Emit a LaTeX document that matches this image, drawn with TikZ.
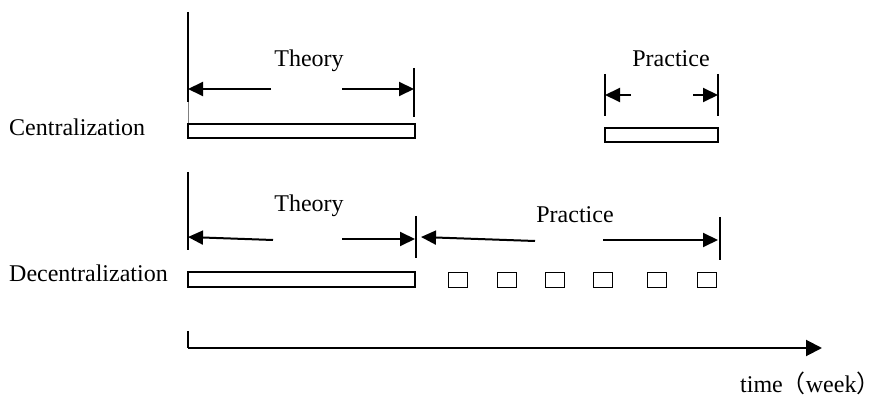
\documentclass[tikz,border=0pt]{standalone}
\usepackage{fontspec}
\setmainfont{Liberation Serif}
\newfontfamily\cjk{Noto Sans CJK SC}
\usetikzlibrary{arrows.meta}

\begin{document}
\begin{tikzpicture}[x=1pt,y=-1pt,
  lbl/.style={font=\fontsize{24}{28}\selectfont, inner sep=0pt},
  tick/.style={line width=1.4pt},
  dimarrow/.style={line width=2pt,-{Triangle[length=15pt,width=14pt]}},
  bar/.style={draw, line width=1.4pt},
  slot/.style={draw, line width=1.4pt, minimum width=19pt, minimum height=15pt, inner sep=0pt},
  axis/.style={line width=2pt,-{Triangle[length=16pt,width=16pt]}}]
\useasboundingbox (0,0) rectangle (876,403);

% ---- row labels ----
\node[lbl, anchor=base west] (cen) at (9,136) {Centralization};
\node[lbl, anchor=base west] (dec) at (9,282) {Decentralization};

% ---- centralized schedule ----
\coordinate (c0t) at (188,12);  \coordinate (c0b) at (188,102);
\coordinate (c1t) at (414,68);  \coordinate (c1b) at (414,117);
\draw[tick] (c0t) -- (c0b);
\draw[line width=0.4pt, gray] (c0b) -- (188,124);
\draw[tick] (c1t) -- (c1b);
\node[lbl, anchor=base] (cth) at (309,67) {Theory};
\coordinate (ctl) at (271,89); \coordinate (ctr) at (342,89);
\draw[dimarrow] (ctl) -- (188,89);
\draw[dimarrow] (ctr) -- (414,89);
\draw[bar] (188,124) rectangle (415,138);

\coordinate (p0t) at (605,74);  \coordinate (p0b) at (605,116);
\coordinate (p1t) at (718,74);  \coordinate (p1b) at (718,116);
\draw[tick] (p0t) -- (p0b);
\draw[tick] (p1t) -- (p1b);
\node[lbl, anchor=base] (cpr) at (671,67) {Practice};
\coordinate (cpl) at (631,95); \coordinate (cpr2) at (693,95);
\draw[dimarrow] (cpl) -- (605,95);
\draw[dimarrow] (cpr2) -- (718,95);
\draw[bar] (605,128) rectangle (718,142);

% ---- decentralized schedule ----
\coordinate (d0t) at (188,172); \coordinate (d0b) at (188,250);
\coordinate (d1t) at (416,216); \coordinate (d1b) at (416,258);
\coordinate (d2t) at (720,217); \coordinate (d2b) at (720,260);
\draw[tick] (d0t) -- (d0b);
\draw[tick] (d1t) -- (d1b);
\draw[tick] (d2t) -- (d2b);
\node[lbl, anchor=base] (dth) at (309,212) {Theory};
\node[lbl, anchor=base] (dpr) at (575,223) {Practice};
\draw[dimarrow] (273,240) -- (188,237);
\draw[dimarrow] (342,239) -- (415,239);
\draw[dimarrow] (535,241) -- (421,237);
\draw[dimarrow] (603,240) -- (718,240);
\draw[bar] (188,272) rectangle (415,287);
\foreach \x [count=\i] in {458,507,555,603,657,707}
  \node[slot] (s\i) at (\x,280) {};

% ---- time axis ----
\coordinate (o) at (188,348);
\coordinate (ot) at (188,331);
\coordinate (oe) at (822,348);
\draw[line width=2pt] (ot) -- (o);
\draw[axis] (o) -- (oe);
\node[lbl, anchor=base west] (tw) at (740,392)
  {time\makebox[23pt][r]{\cjk （}week\makebox[6pt][l]{\cjk ）}};
\end{tikzpicture}
\end{document}
